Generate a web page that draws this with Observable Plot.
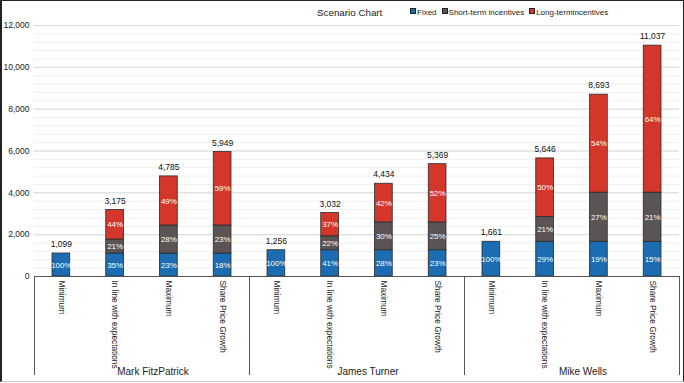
<!DOCTYPE html>
<html>
<head>
<meta charset="utf-8">
<script src="https://cdn.jsdelivr.net/npm/d3@7"></script>
<script src="https://cdn.jsdelivr.net/npm/@observablehq/plot@0.6"></script>
<style>
  html, body { margin: 0; padding: 0; background: #fff; }
  body { font-family: "Liberation Sans", Arial, sans-serif; }
  #wrap { position: relative; width: 684px; height: 383px; overflow: hidden; }
  #frame { position: absolute; left: 0; top: 0; width: 684px; height: 382px; box-sizing: border-box;
           border-top: 1px solid #222; border-left: 2px solid #222; border-right: 1px solid #222; border-bottom: 1px solid #c8c8c8; pointer-events: none; }
  #title { position: absolute; left: 317px; top: 7px; font-size: 9.8px; line-height: 12px; color: #222; white-space: nowrap; }
  #legend { position: absolute; left: 410px; top: 8px; font-size: 8px; line-height: 10px; color: #222; white-space: nowrap; display: flex; gap: 5px; }
  #legend span.sw { display: inline-block; width: 4px; height: 4px; border: 1px solid #222; margin-right: 1px; vertical-align: 1px; }
  #chart { position: absolute; left: 0; top: 0; }
</style>
</head>
<body>
<div id="wrap">
  <div id="chart"></div>
  <div id="title">Scenario Chart</div>
  <div id="legend"></div>
  <div id="frame"></div>
</div>
<script>
// ---- data ----
const people = ["Mark FitzPatrick", "James Turner", "Mike Wells"];
const scenarios = ["Minimum", "In line with expectations", "Maximum", "Share Price Growth"];
const components = ["Fixed", "Short-term incentives", "Long-termincentives"];
const colors = ["#1b6cb0", "#5a5454", "#d3362b"];

const fixedValues = [1099, 1099, 1099, 1099, 1256, 1256, 1256, 1256, 1661, 1661, 1661, 1661];
const stiValues   = [0, 667, 1340, 1340, 0, 667, 1330, 1330, 0, 1186, 2347, 2347];
const ltiValues   = [0, 1409, 2346, 3510, 0, 1109, 1848, 2783, 0, 2799, 4685, 7029];
const totals      = [1099, 3175, 4785, 5949, 1256, 3032, 4434, 5369, 1661, 5646, 8693, 11037];

const fixedPct = [100, 35, 23, 18, 100, 41, 28, 23, 100, 29, 19, 15];
const stiPct   = [null, 21, 28, 23, null, 22, 30, 25, null, 21, 27, 21];
const ltiPct   = [null, 44, 49, 59, null, 37, 42, 52, null, 50, 54, 64];

const yTicks = [0, 2000, 4000, 6000, 8000, 10000, 12000];

// ---- build rows ----
const valueSeries = [fixedValues, stiValues, ltiValues];
const pctSeries = [fixedPct, stiPct, ltiPct];
const segments = [];
totals.forEach((t, i) => {
  let base = 0;
  components.forEach((c, k) => {
    const v = valueSeries[k][i];
    if (v > 0) {
      segments.push({i, component: c, y1: base, y2: base + v, pct: pctSeries[k][i]});
    }
    base += v;
  });
});
const bars = totals.map((t, i) => ({i, total: t}));
const halfBar = 0.165;
const groupEdges = d3.range(people.length + 1).map(g => g * scenarios.length - 0.5);
const groupCenters = people.map((p, g) => g * scenarios.length + (scenarios.length - 1) / 2);

// legend
const legend = document.getElementById("legend");
components.forEach((c, k) => {
  const s = document.createElement("span");
  s.innerHTML = `<span class="sw" style="background:${colors[k]}"></span>${c}`;
  legend.appendChild(s);
});

const fmt = d3.format(",");

const chart = Plot.plot({
  width: 684,
  height: 383,
  marginTop: 25,
  marginBottom: 107,
  marginLeft: 34,
  marginRight: 5,
  style: {fontFamily: "'Liberation Sans', Arial, sans-serif", background: "transparent", color: "#222"},
  x: {type: "linear", domain: [-0.5, totals.length - 0.5], axis: null},
  y: {domain: [0, 12000], axis: null},
  color: {domain: components, range: colors},
  marks: [
    Plot.gridY({ticks: d3.range(0, 12001, 400), stroke: "#efefef", strokeOpacity: 1}),
    Plot.gridY({ticks: yTicks, stroke: "#d9d9d9", strokeOpacity: 1}),
    Plot.axisY({ticks: yTicks, tickSize: 0, tickPadding: 5, tickFormat: fmt, fontSize: 8.5, label: null}),
    Plot.rectY(segments, {x1: d => d.i - halfBar, x2: d => d.i + halfBar, y1: "y1", y2: "y2", fill: "component", stroke: "#2a2a2a", strokeWidth: 0.8}),
    Plot.text(segments, {x: "i", y: d => (d.y1 + d.y2) / 2, text: d => d.pct == null ? "" : d.pct + "%", fill: "white", fontSize: 8}),
    Plot.text(bars, {x: "i", y: "total", text: d => fmt(d.total), dy: -9, fontSize: 8.5, fill: "#111"}),
    Plot.ruleY([0], {stroke: "#555", strokeWidth: 1}),
    Plot.axisX({ticks: groupEdges, tickSize: 99, tickFormat: () => "", stroke: "#555", label: null}),
    Plot.axisX({ticks: bars.map(d => d.i), tickSize: 0, tickPadding: 4, tickRotate: 90, textAnchor: "start", lineAnchor: "middle",
                tickFormat: i => scenarios[i % scenarios.length], fontSize: 8.3, label: null}),
    Plot.axisX({ticks: groupCenters, tickSize: 0, tickPadding: 91, lineAnchor: "top", dx: 11,
                tickFormat: (v, j) => people[groupCenters.indexOf(v)], fontSize: 10, label: null})
  ]
});
document.getElementById("chart").appendChild(chart);
</script>
</body>
</html>
